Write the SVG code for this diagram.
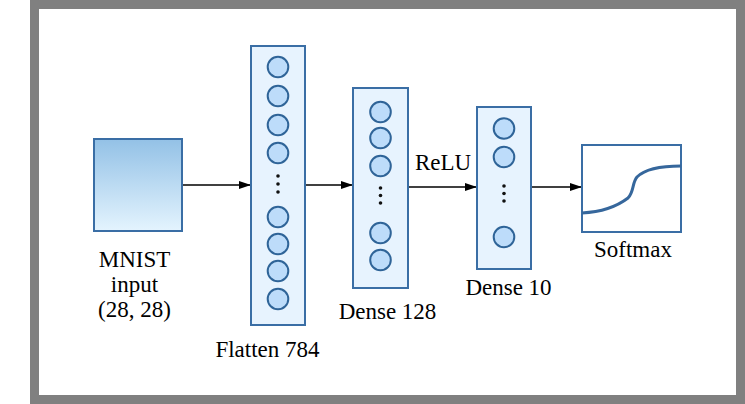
<svg xmlns="http://www.w3.org/2000/svg" width="745" height="404" viewBox="0 0 745 404">
<style>
.col{fill:#e7f3fe;stroke:#3a6ea5;stroke-width:2}
.n{fill:#bddcfa;stroke:#2f6498;stroke-width:2}
.d{fill:#111}
.lbl{font-family:"Liberation Serif","Times New Roman",serif;font-size:23px;fill:#000;text-anchor:middle}
.edge{stroke:#000;stroke-width:1.6;fill:none;marker-end:url(#ah)}
</style>
<defs>
<marker id="ah" markerWidth="12" markerHeight="8" refX="12" refY="4" orient="auto" markerUnits="userSpaceOnUse">
<path d="M0,0 L12,4 L0,8 z" fill="#000"/>
</marker>
<linearGradient id="mg" x1="0" y1="0" x2="0" y2="1">
<stop offset="0" stop-color="#93c1e6"/>
<stop offset="1" stop-color="#e4f4fe"/>
</linearGradient>
</defs>
<rect x="0" y="0" width="745" height="404" fill="#fff"/>
<rect x="34.5" y="4.5" width="706" height="395" fill="#fff" stroke="#808080" stroke-width="9"/>
<g id="connectors">
<line class="edge" x1="182" y1="185" x2="251" y2="185"/>
<line class="edge" x1="305" y1="185" x2="353" y2="185"/>
<line class="edge" x1="408" y1="187" x2="477" y2="187"/>
<line class="edge" x1="531" y1="187" x2="582" y2="187"/>
<text class="lbl" x="443" y="170">ReLU</text>
</g>
<g id="mnist">
<rect x="94" y="139" width="88" height="92" fill="url(#mg)" stroke="#3a6ea5" stroke-width="2"/>
<text class="lbl" x="134.5" y="267">MNIST</text>
<text class="lbl" x="134.5" y="292">input</text>
<text class="lbl" x="134.5" y="317">(28, 28)</text>
</g>
<g id="flatten">
<rect class="col" x="251" y="46" width="54" height="279"/>
<circle class="n" cx="278" cy="67" r="10.3"/>
<circle class="n" cx="278" cy="96" r="10.3"/>
<circle class="n" cx="278" cy="125" r="10.3"/>
<circle class="n" cx="278" cy="153" r="10.3"/>
<circle class="d" cx="278" cy="176" r="1.8"/>
<circle class="d" cx="278" cy="184" r="1.8"/>
<circle class="d" cx="278" cy="192" r="1.8"/>
<circle class="n" cx="278" cy="217" r="10.3"/>
<circle class="n" cx="278" cy="244" r="10.3"/>
<circle class="n" cx="278" cy="271" r="10.3"/>
<circle class="n" cx="278" cy="299" r="10.3"/>
<text class="lbl" x="267.5" y="357">Flatten 784</text>
</g>
<g id="dense128">
<rect class="col" x="353" y="88" width="55" height="200"/>
<circle class="n" cx="380.5" cy="112" r="10.3"/>
<circle class="n" cx="380.5" cy="138" r="10.3"/>
<circle class="n" cx="380.5" cy="166" r="10.3"/>
<circle class="d" cx="380.5" cy="188" r="1.8"/>
<circle class="d" cx="380.5" cy="195.5" r="1.8"/>
<circle class="d" cx="380.5" cy="203" r="1.8"/>
<circle class="n" cx="380.5" cy="233" r="10.3"/>
<circle class="n" cx="380.5" cy="260" r="10.3"/>
<text class="lbl" x="387.5" y="319">Dense 128</text>
</g>
<g id="dense10">
<rect class="col" x="477" y="107" width="54" height="162"/>
<circle class="n" cx="504" cy="128.5" r="10.3"/>
<circle class="n" cx="504" cy="157" r="10.3"/>
<circle class="d" cx="504" cy="186" r="1.8"/>
<circle class="d" cx="504" cy="193.5" r="1.8"/>
<circle class="d" cx="504" cy="201" r="1.8"/>
<circle class="n" cx="504" cy="237" r="10.3"/>
<text class="lbl" x="508.5" y="295">Dense 10</text>
</g>
<g id="softmax">
<rect x="582" y="145" width="99" height="87" fill="#fff" stroke="#3a6ea5" stroke-width="2"/>
<path d="M582,213 C600,212 615,208 628,198 C634,192 632,183 637,177 C645,169 660,166 681,166" fill="none" stroke="#36679c" stroke-width="3"/>
<text class="lbl" x="633" y="257">Softmax</text>
</g>
</svg>
